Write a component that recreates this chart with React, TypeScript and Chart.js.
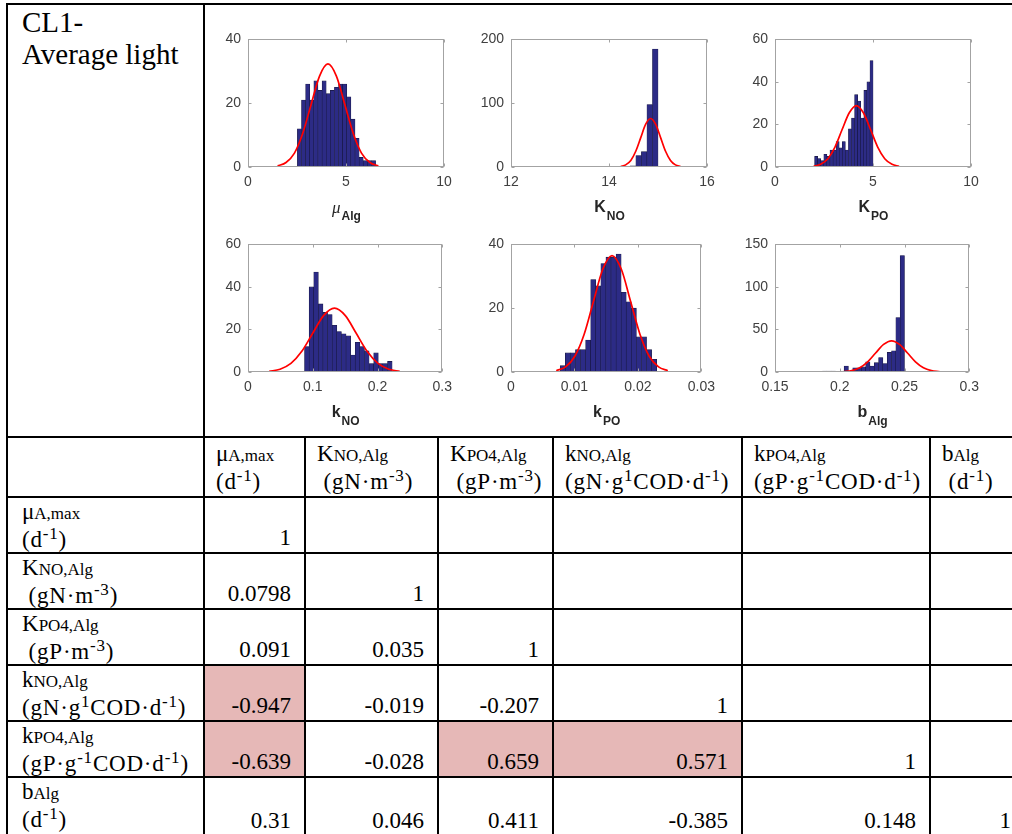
import React, { useEffect, useRef } from 'react';
import { Chart, registerables } from 'chart.js';
Chart.register(...registerables);

// ---------------- Histogram data ----------------
// mu_Alg
const muAlgBinStart = 2.52;
const muAlgBinWidth = 0.21;
const muAlgCounts = [12, 21, 26, 21, 27, 24, 27, 23, 24, 25, 26, 26, 22, 15, 9, 3, 2, 2, 2];
const muAlgFitX = [1.51, 1.94, 2.37, 2.79, 3.22, 3.65, 4.08, 4.51, 4.94, 5.37, 5.79, 6.22, 6.65];
const muAlgFitY = [0.36, 1.42, 4.37, 10.5, 19.6, 28.5, 32.3, 28.5, 19.6, 10.5, 4.37, 1.42, 0.36];
const muAlgXTicks = [0, 5, 10];
const muAlgYTicks = [0, 20, 40];

// K_NO
const kNOBinStart = 12.85;
const kNOBinWidth = 0.1132;
const kNOCounts = [1, 1, 0, 0, 0, 0, 0, 0, 0, 0, 1, 1, 0, 1, 2, 18, 24, 98, 185];
const kNOFitX = [14.24, 14.34, 14.445, 14.546, 14.648, 14.749, 14.85, 14.951, 15.053, 15.154, 15.255, 15.356, 15.46];
const kNOFitY = [0.84, 3.34, 10.3, 24.7, 46.1, 67.1, 76, 67.1, 46.1, 24.7, 10.3, 3.34, 0.84];
const kNOXTicks = [12, 14, 16];
const kNOYTicks = [0, 100, 200];

// K_PO
const kPOBinStart = 2.02;
const kPOBinWidth = 0.157;
const kPOCounts = [5, 4, 3, 6, 5, 8, 8, 12, 9, 12, 8, 18, 23, 34, 31, 23, 36, 40, 50];
const kPOFitX = [1.97, 2.33, 2.7, 3.06, 3.42, 3.79, 4.15, 4.51, 4.88, 5.24, 5.6, 5.97, 6.33];
const kPOFitY = [0.32, 1.27, 3.91, 9.38, 17.5, 25.5, 28.9, 25.5, 17.5, 9.38, 3.91, 1.27, 0.32];
const kPOXTicks = [0, 5, 10];
const kPOYTicks = [0, 20, 40, 60];

// k_NO
const smallKNOBinStart = 0.0873;
const smallKNOBinWidth = 0.00712;
const smallKNOCounts = [12, 40, 47, 32, 28, 27, 22, 19, 18, 17, 8, 14, 12, 10, 4, 9, 4, 4, 5];
const smallKNOFitX = [0.0327, 0.0495, 0.0663, 0.0831, 0.0999, 0.1167, 0.1335, 0.1503, 0.1671, 0.1839, 0.2007, 0.2175, 0.2343];
const smallKNOFitY = [0.33, 1.32, 4.06, 9.74, 18.2, 26.5, 30, 26.5, 18.2, 9.74, 4.06, 1.32, 0.33];
const smallKNOXTicks = [0, 0.1, 0.2, 0.3];
const smallKNOYTicks = [0, 20, 40, 60];

// k_PO
const smallKPOBinStart = 0.00776;
const smallKPOBinWidth = 0.0008;
const smallKPOCounts = [2, 6, 6, 7, 7, 10, 29, 27, 34, 36, 36, 37, 25, 22, 20, 11, 11, 7, 4];
const smallKPOFitX = [0.00713, 0.0086, 0.01006, 0.01153, 0.01299, 0.01446, 0.01592, 0.01739, 0.01885, 0.02032, 0.02178, 0.02325, 0.02471];
const smallKPOFitY = [0.41, 1.6, 4.94, 11.85, 22.1, 32.2, 36.5, 32.2, 22.1, 11.85, 4.94, 1.6, 0.41];
const smallKPOXTicks = [0, 0.01, 0.02, 0.03];
const smallKPOYTicks = [0, 20, 40];

// b_Alg
const bAlgBinStart = 0.1867;
const bAlgBinWidth = 0.00333;
const bAlgCounts = [1, 1, 1, 0, 0, 7, 1, 5, 5, 6, 12, 7, 11, 17, 10, 23, 25, 64, 137];
const bAlgFitX = [0.2031, 0.20925, 0.2154, 0.22155, 0.2277, 0.23385, 0.24, 0.24615, 0.2523, 0.25845, 0.2646, 0.27075, 0.2769];
const bAlgFitY = [0.41, 1.61, 4.97, 11.9, 22.3, 32.4, 36.7, 32.4, 22.3, 11.9, 4.97, 1.61, 0.41];
const bAlgXTicks = [0.15, 0.2, 0.25, 0.3];
const bAlgYTicks = [0, 50, 100, 150];

// ---------------- Correlation table data ----------------
const paramSymbols = ['μ', 'K', 'K', 'k', 'k', 'b'];
const paramSubscripts = ['A,max', 'NO,Alg', 'PO4,Alg', 'NO,Alg', 'PO4,Alg', 'Alg'];
const paramUnits = ['(d^{-1})', ' (gN·m^{-3})', ' (gP·m^{-3})', '(gN·g^{1}COD·d^{-1})', '(gP·g^{-1}COD·d^{-1})', '(d^{-1})'];
const headerUnits = ['(d^{-1})', ' (gN·m^{-3})', ' (gP·m^{-3})', '(gN·g^{1}COD·d^{-1})', '(gP·g^{-1}COD·d^{-1})', ' (d^{-1})'];
const corrValues: string[][] = [
  ['1'],
  ['0.0798', '1'],
  ['0.091', '0.035', '1'],
  ['-0.947', '-0.019', '-0.207', '1'],
  ['-0.639', '-0.028', '0.659', '0.571', '1'],
  ['0.31', '0.046', '0.411', '-0.385', '0.148', '1'],
];
const highlightedCells = ['3-0', '4-0', '4-2', '4-3'];
const caseTitle = ['CL1-', 'Average light'];

// ---------------- Layout ----------------
const X = [7, 204, 305, 438, 553, 742, 930, 1025];
const Y = [4, 437, 497, 553, 609, 665, 721, 777, 836];
const HIGHLIGHT = '#e6b8b7';
const SERIF = "'Liberation Serif', 'Times New Roman', serif";
const SANS = "'Liberation Sans', Arial, Helvetica, sans-serif";

const fmt = (v: number) => String(+v.toFixed(4));

const boxPlugin = {
  id: 'matBox',
  afterDraw(chart: any) {
    const { ctx, chartArea: a, scales } = chart;
    ctx.save();
    ctx.strokeStyle = '#a3a3a3';
    ctx.lineWidth = 1;
    const l = Math.round(a.left) + 0.5, t = Math.round(a.top) + 0.5;
    const r = Math.round(a.right) - 0.5, b = Math.round(a.bottom) - 0.5;
    ctx.strokeRect(l, t, r - l, b - t);
    ctx.beginPath();
    scales.x.ticks.forEach((tk: any) => {
      const px = Math.round(scales.x.getPixelForValue(tk.value)) + 0.5;
      ctx.moveTo(px, b); ctx.lineTo(px, b - 3);
      ctx.moveTo(px, t); ctx.lineTo(px, t + 3);
    });
    scales.y.ticks.forEach((tk: any) => {
      const py = Math.round(scales.y.getPixelForValue(tk.value)) + 0.5;
      ctx.moveTo(l, py); ctx.lineTo(l + 3, py);
      ctx.moveTo(r, py); ctx.lineTo(r - 3, py);
    });
    ctx.stroke();
    ctx.restore();
  },
};

const titlePlugin = {
  id: 'subTitle',
  afterDraw(chart: any, _args: any, opts: any) {
    const { ctx, chartArea: a } = chart;
    ctx.save();
    ctx.fillStyle = '#262626';
    ctx.textBaseline = 'alphabetic';
    ctx.font = opts.mainFont;
    const w1 = ctx.measureText(opts.main).width;
    ctx.font = opts.subFont;
    const w2 = ctx.measureText(opts.sub).width;
    const cx = (a.left + a.right) / 2;
    const x0 = cx - (w1 + w2) / 2;
    const base = a.bottom + 45;
    ctx.font = opts.mainFont;
    ctx.fillText(opts.main, x0, base + (opts.mainDy || 0));
    ctx.font = opts.subFont;
    ctx.fillText(opts.sub, x0 + w1 + 1, base + 8);
    ctx.restore();
  },
};

type HistProps = {
  left: number; top: number;
  start: number; width: number; counts: number[];
  fitX: number[]; fitY: number[];
  xTicks: number[]; yTicks: number[];
  main: string; sub: string; mainFont: string; mainDy?: number;
};

const CW = 256, CH = 206;

function Hist(p: HistProps) {
  const ref = useRef<HTMLCanvasElement>(null);
  useEffect(() => {
    const bars = p.counts.map((c, i) => ({ x: p.start + (i + 0.5) * p.width, y: c }));
    const fit = p.fitX.map((x, i) => ({ x, y: p.fitY[i] }));
    const tickFont = { family: SANS, size: 14 };
    const chart = new Chart(ref.current as HTMLCanvasElement, {
      type: 'bar',
      data: {
        datasets: [
          {
            type: 'line', data: fit as any, borderColor: '#ff0000', borderWidth: 1.7,
            pointRadius: 0, cubicInterpolationMode: 'monotone', fill: false, order: 0,
          } as any,
          {
            type: 'bar', data: bars as any, backgroundColor: '#2c2b86', borderColor: '#181842',
            borderWidth: 0.6, barPercentage: 1, categoryPercentage: 1, order: 1, borderSkipped: false,
          } as any,
        ],
      },
      options: {
        animation: false,
        responsive: false,
        devicePixelRatio: 1,
        layout: { padding: { left: 0, top: 12, right: 15, bottom: 0 } },
        plugins: {
          legend: { display: false },
          tooltip: { enabled: false },
          subTitle: { main: p.main, sub: p.sub, mainFont: p.mainFont, subFont: `bold 12px ${SANS}`, mainDy: p.mainDy || 0 },
        } as any,
        scales: {
          x: {
            type: 'linear', offset: false,
            min: p.xTicks[0], max: p.xTicks[p.xTicks.length - 1],
            afterBuildTicks: (s: any) => { s.ticks = p.xTicks.map((v) => ({ value: v })); },
            afterFit: (s: any) => { s.height = CH - 12 - 131; },
            ticks: { callback: (v: any) => fmt(Number(v)), color: '#404040', font: tickFont, padding: 7, maxRotation: 0, autoSkip: false },
            grid: { display: false, drawTicks: false },
            border: { display: false },
          },
          y: {
            type: 'linear',
            min: p.yTicks[0], max: p.yTicks[p.yTicks.length - 1],
            afterBuildTicks: (s: any) => { s.ticks = p.yTicks.map((v) => ({ value: v })); },
            afterFit: (s: any) => { s.width = 45; },
            ticks: { callback: (v: any) => fmt(Number(v)), color: '#404040', font: tickFont, padding: 7, autoSkip: false },
            grid: { display: false, drawTicks: false },
            border: { display: false },
          },
        } as any,
      },
      plugins: [boxPlugin, titlePlugin],
    });
    return () => chart.destroy();
  }, []);
  return (
    <canvas
      ref={ref}
      width={CW}
      height={CH}
      style={{ position: 'absolute', left: p.left, top: p.top, width: CW, height: CH }}
    />
  );
}

function Unit({ text }: { text: string }) {
  const parts = text.split(/\^\{([^}]*)\}/);
  return (
    <span style={{ fontSize: 23, letterSpacing: '0.8px' }}>
      {parts.map((s, i) =>
        i % 2 === 1 ? (
          <span key={i} style={{ fontSize: 17, position: 'relative', top: -8, lineHeight: 0 }}>{s}</span>
        ) : (
          <span key={i}>{s}</span>
        ),
      )}
    </span>
  );
}

function ParamLabel({ idx, units }: { idx: number; units: string[] }) {
  return (
    <div style={{ whiteSpace: 'pre' }}>
      <div>
        <span style={{ fontSize: 23 }}>{paramSymbols[idx]}</span>
        <span style={{ fontSize: 17 }}>{paramSubscripts[idx]}</span>
      </div>
      <div>
        <Unit text={units[idx]} />
      </div>
    </div>
  );
}

function cellBox(c0: number, c1: number, r: number): React.CSSProperties {
  return {
    position: 'absolute',
    left: X[c0] + 1,
    top: Y[r] + 1,
    width: X[c1] - X[c0] - 2,
    height: Y[r + 1] - Y[r] - 2,
    background: '#fff',
    boxSizing: 'border-box',
    overflow: 'hidden',
  };
}

export default function App() {
  const plotL = [248, 511, 775];
  const plotT = [36, 241];
  const cells: React.ReactNode[] = [];

  // top row
  cells.push(
    <div key="title" style={{ ...cellBox(0, 1, 0), padding: '1px 0 0 14px', fontSize: 29, lineHeight: '32px' }}>
      <div>{caseTitle[0]}</div>
      <div>{caseTitle[1]}</div>
    </div>,
  );
  cells.push(<div key="charts" style={cellBox(1, 7, 0)} />);

  // header row
  cells.push(<div key="h0" style={cellBox(0, 1, 1)} />);
  for (let c = 0; c < 6; c++) {
    cells.push(
      <div key={'h' + (c + 1)} style={{ ...cellBox(c + 1, c + 2, 1), padding: '3px 0 0 11px' }}>
        <ParamLabel idx={c} units={headerUnits} />
      </div>,
    );
  }
  // body rows
  for (let r = 0; r < 6; r++) {
    cells.push(
      <div key={'l' + r} style={{ ...cellBox(0, 1, r + 2), padding: '1px 0 0 14px' }}>
        <ParamLabel idx={r} units={paramUnits} />
      </div>,
    );
    for (let c = 0; c < 6; c++) {
      const v = corrValues[r][c];
      const hl = highlightedCells.includes(r + '-' + c);
      cells.push(
        <div key={'v' + r + '-' + c} style={{ ...cellBox(c + 1, c + 2, r + 2), background: hl ? HIGHLIGHT : '#fff' }}>
          {v !== undefined && (
            <div style={{ position: 'absolute', right: 13, bottom: 1, fontSize: 23 }}>{v}</div>
          )}
        </div>,
      );
    }
  }

  return (
    <div style={{ position: 'absolute', left: 0, top: 0, width: 1012, height: 834, overflow: 'hidden', background: '#fff' }}>
      <div
        style={{
          position: 'absolute', left: 0, top: 0, width: 1040, height: 860,
          fontFamily: SERIF, fontSize: 23, lineHeight: '26px', color: '#000',
        }}
      >
        <div style={{ position: 'absolute', left: X[0] - 1, top: Y[0] - 1, width: X[7] - X[0] + 2, height: Y[8] - Y[0] + 2, background: '#000' }} />
        {cells}
        <Hist left={plotL[0] - 45} top={plotT[0] - 12} start={muAlgBinStart} width={muAlgBinWidth} counts={muAlgCounts}
          fitX={muAlgFitX} fitY={muAlgFitY} xTicks={muAlgXTicks} yTicks={muAlgYTicks}
          main="μ" sub="Alg" mainFont={`italic 17px ${SERIF}`} mainDy={1} />
        <Hist left={plotL[1] - 45} top={plotT[0] - 12} start={kNOBinStart} width={kNOBinWidth} counts={kNOCounts}
          fitX={kNOFitX} fitY={kNOFitY} xTicks={kNOXTicks} yTicks={kNOYTicks}
          main="K" sub="NO" mainFont={`bold 16px ${SANS}`} />
        <Hist left={plotL[2] - 45} top={plotT[0] - 12} start={kPOBinStart} width={kPOBinWidth} counts={kPOCounts}
          fitX={kPOFitX} fitY={kPOFitY} xTicks={kPOXTicks} yTicks={kPOYTicks}
          main="K" sub="PO" mainFont={`bold 16px ${SANS}`} />
        <Hist left={plotL[0] - 45} top={plotT[1] - 12} start={smallKNOBinStart} width={smallKNOBinWidth} counts={smallKNOCounts}
          fitX={smallKNOFitX} fitY={smallKNOFitY} xTicks={smallKNOXTicks} yTicks={smallKNOYTicks}
          main="k" sub="NO" mainFont={`bold 16px ${SANS}`} />
        <Hist left={plotL[1] - 45} top={plotT[1] - 12} start={smallKPOBinStart} width={smallKPOBinWidth} counts={smallKPOCounts}
          fitX={smallKPOFitX} fitY={smallKPOFitY} xTicks={smallKPOXTicks} yTicks={smallKPOYTicks}
          main="k" sub="PO" mainFont={`bold 16px ${SANS}`} />
        <Hist left={plotL[2] - 45} top={plotT[1] - 12} start={bAlgBinStart} width={bAlgBinWidth} counts={bAlgCounts}
          fitX={bAlgFitX} fitY={bAlgFitY} xTicks={bAlgXTicks} yTicks={bAlgYTicks}
          main="b" sub="Alg" mainFont={`bold 16px ${SANS}`} />
      </div>
    </div>
  );
}
